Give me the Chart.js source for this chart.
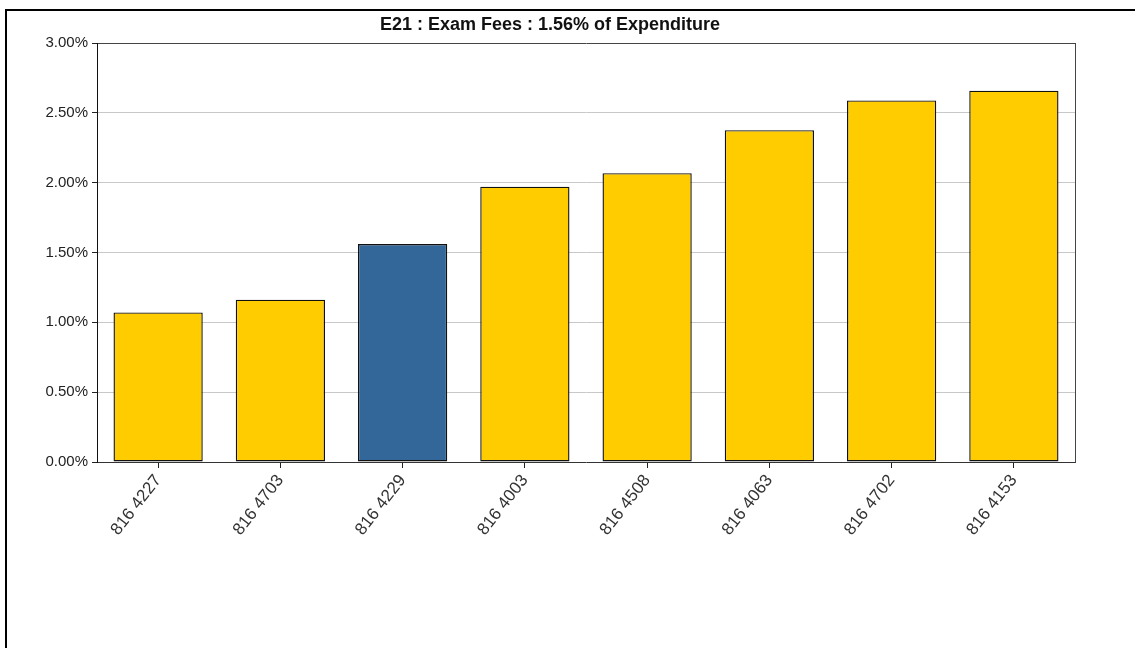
<!DOCTYPE html>
<html>
<head>
<meta charset="utf-8">
<script src="https://cdn.jsdelivr.net/npm/chart.js@4.4.1/dist/chart.umd.min.js"></script>
<style>
  html, body { margin: 0; padding: 0; background: #fff; }
  body { width: 1135px; height: 648px; position: relative; overflow: hidden; }
  #topLine { position: absolute; left: 5px; top: 9px; width: 1130px; height: 2px; background: #000; }
  #leftLine { position: absolute; left: 5px; top: 9px; width: 2px; height: 639px; background: #000; }
  #wrap { position: absolute; left: 0; top: 12px; width: 1135px; height: 636px; }
</style>
</head>
<body>
<div id="topLine"></div>
<div id="leftLine"></div>
<div id="wrap"><canvas id="c"></canvas></div>
<script>
const titleText = 'E21 : Exam Fees : 1.56% of Expenditure';
const categories = ['816 4227', '816 4703', '816 4229', '816 4003', '816 4508', '816 4063', '816 4702', '816 4153'];
const values = [1.071, 1.162, 1.56, 1.971, 2.068, 2.376, 2.589, 2.659];
const highlighted = ['816 4229'];
const yTicks = [0, 0.5, 1.0, 1.5, 2.0, 2.5, 3.0];

const YELLOW = '#FFCC00';
const BLUE = '#336699';
const FONT = "'Liberation Sans', Arial, sans-serif";

new Chart(document.getElementById('c'), {
  type: 'bar',
  data: {
    labels: categories,
    datasets: [{
      data: values,
      backgroundColor: categories.map(c => highlighted.includes(c) ? BLUE : YELLOW),
      borderColor: '#111',
      borderWidth: 1.4,
      borderSkipped: false,
      barPercentage: 0.73,
      categoryPercentage: 1.0
    }]
  },
  options: {
    responsive: true,
    maintainAspectRatio: false,
    animation: false,
    layout: { padding: { left: 25, right: 60, top: 0, bottom: 0 } },
    plugins: {
      legend: { display: false },
      tooltip: { enabled: false },
      title: {
        display: true,
        text: titleText,
        color: '#111',
        font: { family: FONT, size: 18, weight: 'bold', lineHeight: 1 },
        padding: { top: 4, bottom: 9 }
      }
    },
    scales: {
      x: {
        grid: { display: true, drawOnChartArea: false, drawTicks: true, tickLength: 6, offset: false, color: '#222', tickColor: '#222' },
        border: { display: true, color: '#333', width: 1 },
        ticks: {
          minRotation: 52, maxRotation: 52, autoSkip: false, padding: 3,
          color: '#333',
          font: { family: FONT, size: 17 }
        },
        afterFit: (s) => { s.height = 186; }
      },
      y: {
        min: 0, max: 3,
        afterBuildTicks: (s) => { s.ticks = yTicks.map(v => ({ value: v })); },
        grid: {
          drawTicks: true, tickLength: 5,
          color: (ctx) => (ctx.tick && (ctx.tick.value === 3)) ? '#444' : (ctx.tick && ctx.tick.value === 0 ? 'rgba(0,0,0,0)' : '#c8c8c8'),
          lineWidth: 1,
          tickColor: '#222'
        },
        border: { display: true, color: '#111', width: 1 },
        ticks: {
          padding: 4,
          color: '#222',
          font: { family: FONT, size: 15 },
          callback: (v) => Number(v).toFixed(2) + '%'
        },
        afterFit: (s) => { s.width = 72; }
      },
      y2: {
        position: 'right',
        min: 0, max: 3,
        grid: { drawOnChartArea: false, drawTicks: false },
        border: { display: true, color: '#444', width: 1 },
        ticks: { display: false },
        afterFit: (s) => { s.width = 0; }
      }
    }
  }
});
</script>
</body>
</html>
